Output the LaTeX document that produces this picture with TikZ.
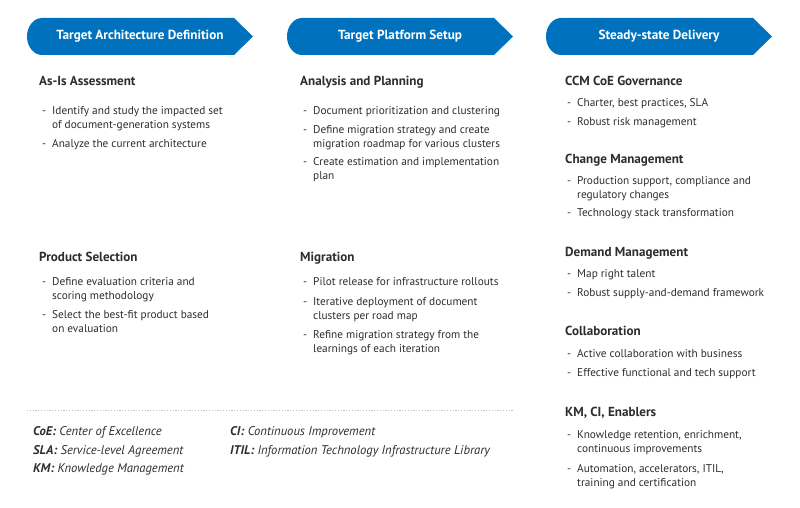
\documentclass[tikz,border=0pt]{standalone}
\usepackage{fontspec}
\setmainfont{PT Sans}
\usetikzlibrary{positioning}

\definecolor{balken}{RGB}{0,113,188}
\definecolor{schrift}{RGB}{45,45,45}
\definecolor{linie}{RGB}{195,195,195}

\tikzset{
	titel/.style={text=white,font=\bfseries\fontsize{13.2}{15}\selectfont,inner sep=0pt},
	kopf/.style={anchor=base west,text=schrift,font=\bfseries\fontsize{13.1}{15}\selectfont,inner sep=0pt},
	strich/.style={anchor=base west,text=schrift,font=\fontsize{11.3}{14.2}\selectfont,inner sep=0pt},
	eintrag/.style={anchor=base west,text=schrift,font=\fontsize{11.3}{14.2}\selectfont,inner sep=0pt},
	fuss/.style={anchor=base west,text=schrift,font=\itshape\fontsize{12.6}{14}\selectfont,inner sep=0pt}
}

\begin{document}
\begin{tikzpicture}[x=1pt,y=-1pt]

\useasboundingbox (0,0) rectangle (800,508);

\def\pfeil#1#2#3{
	\fill[color=balken] (#2+15,18) -- (#2+207,18) -- (#2+226,36.5) -- (#2+207,55)
		-- (#2+15,55) arc[start angle=90,end angle=270,x radius=15,y radius=18.5] -- cycle;
	\node[titel] (#1) at (#2+113,36.5) {#3};
}

\def\strich#1#2#3#4{
	\node[strich] (#1s) at (#2,#3) {-};
	\node[eintrag] (#1) at (#2+10,#3) {\parbox[t]{230pt}{\raggedright #4}};
}

% Phasen
\pfeil{ziel}{27}{Target Architecture Definition}
\pfeil{plattform}{287}{Target Platform Setup}
\pfeil{betrieb}{546}{Steady-state Delivery}

% Spalte 1
\node[kopf] (asis) at (39,86) {As-Is Assessment};
\strich{asisa}{42}{114}{Identify and study the impacted set\\of document-generation systems}
\strich{asisb}{42}{147}{Analyze the current architecture}

\node[kopf] (produkt) at (39,261) {Product Selection};
\strich{produkta}{42}{285}{Define evaluation criteria and\\scoring methodology}
\strich{produktb}{42}{318.5}{Select the best-fit product based\\on evaluation}

% Spalte 2
\node[kopf] (analyse) at (300,85.5) {Analysis and Planning};
\strich{analysea}{303}{115}{Document prioritization and clustering}
\strich{analyseb}{303}{133.5}{Define migration strategy and create\\migration roadmap for various clusters}
\strich{analysec}{303}{165}{Create estimation and implementation\\plan}

\node[kopf] (migration) at (300,261.5) {Migration};
\strich{migrationa}{303}{285.5}{Pilot release for infrastructure rollouts}
\strich{migrationb}{303}{305}{Iterative deployment of document\\clusters per road map}
\strich{migrationc}{303}{338}{Refine migration strategy from the\\learnings of each iteration}

% Spalte 3
\node[kopf] (governance) at (565,86) {CCM CoE Governance};
\strich{governancea}{567}{106.5}{Charter, best practices, SLA}
\strich{governanceb}{567}{125}{Robust risk management}

\node[kopf] (change) at (565,164) {Change Management};
\strich{changea}{567}{184.3}{Production support, compliance and\\regulatory changes}
\strich{changeb}{567}{216.7}{Technology stack transformation}

\node[kopf] (demand) at (565,256) {Demand Management};
\strich{demanda}{567}{277.3}{Map right talent}
\strich{demandb}{567}{296}{Robust supply-and-demand framework}

\node[kopf] (kollab) at (565,335) {Collaboration};
\strich{kollaba}{567}{357.3}{Active collaboration with business}
\strich{kollabb}{567}{376.7}{Effective functional and tech support}

\node[kopf] (km) at (565,416) {KM, CI, Enablers};
\strich{kma}{567}{438.3}{Knowledge retention, enrichment,\\continuous improvements}
\strich{kmb}{567}{472.5}{Automation, accelerators, ITIL,\\training and certification}

% Abkuerzungen
\draw[linie,dash pattern=on 1.2pt off 1.6pt,line width=0.5pt] (27,410) -- (514,410);
\node[fuss] (coe) at (33,435) {\textbf{CoE:} Center of Excellence};
\node[fuss] (sla) at (33,454) {\textbf{SLA:} Service-level Agreement};
\node[fuss] (kmfuss) at (33,472.5) {\textbf{KM:} Knowledge Management};
\node[fuss] (ci) at (230,435) {\textbf{CI:} Continuous Improvement};
\node[fuss] (itil) at (230,454) {\textbf{ITIL:} Information Technology Infrastructure Library};

\end{tikzpicture}
\end{document}
